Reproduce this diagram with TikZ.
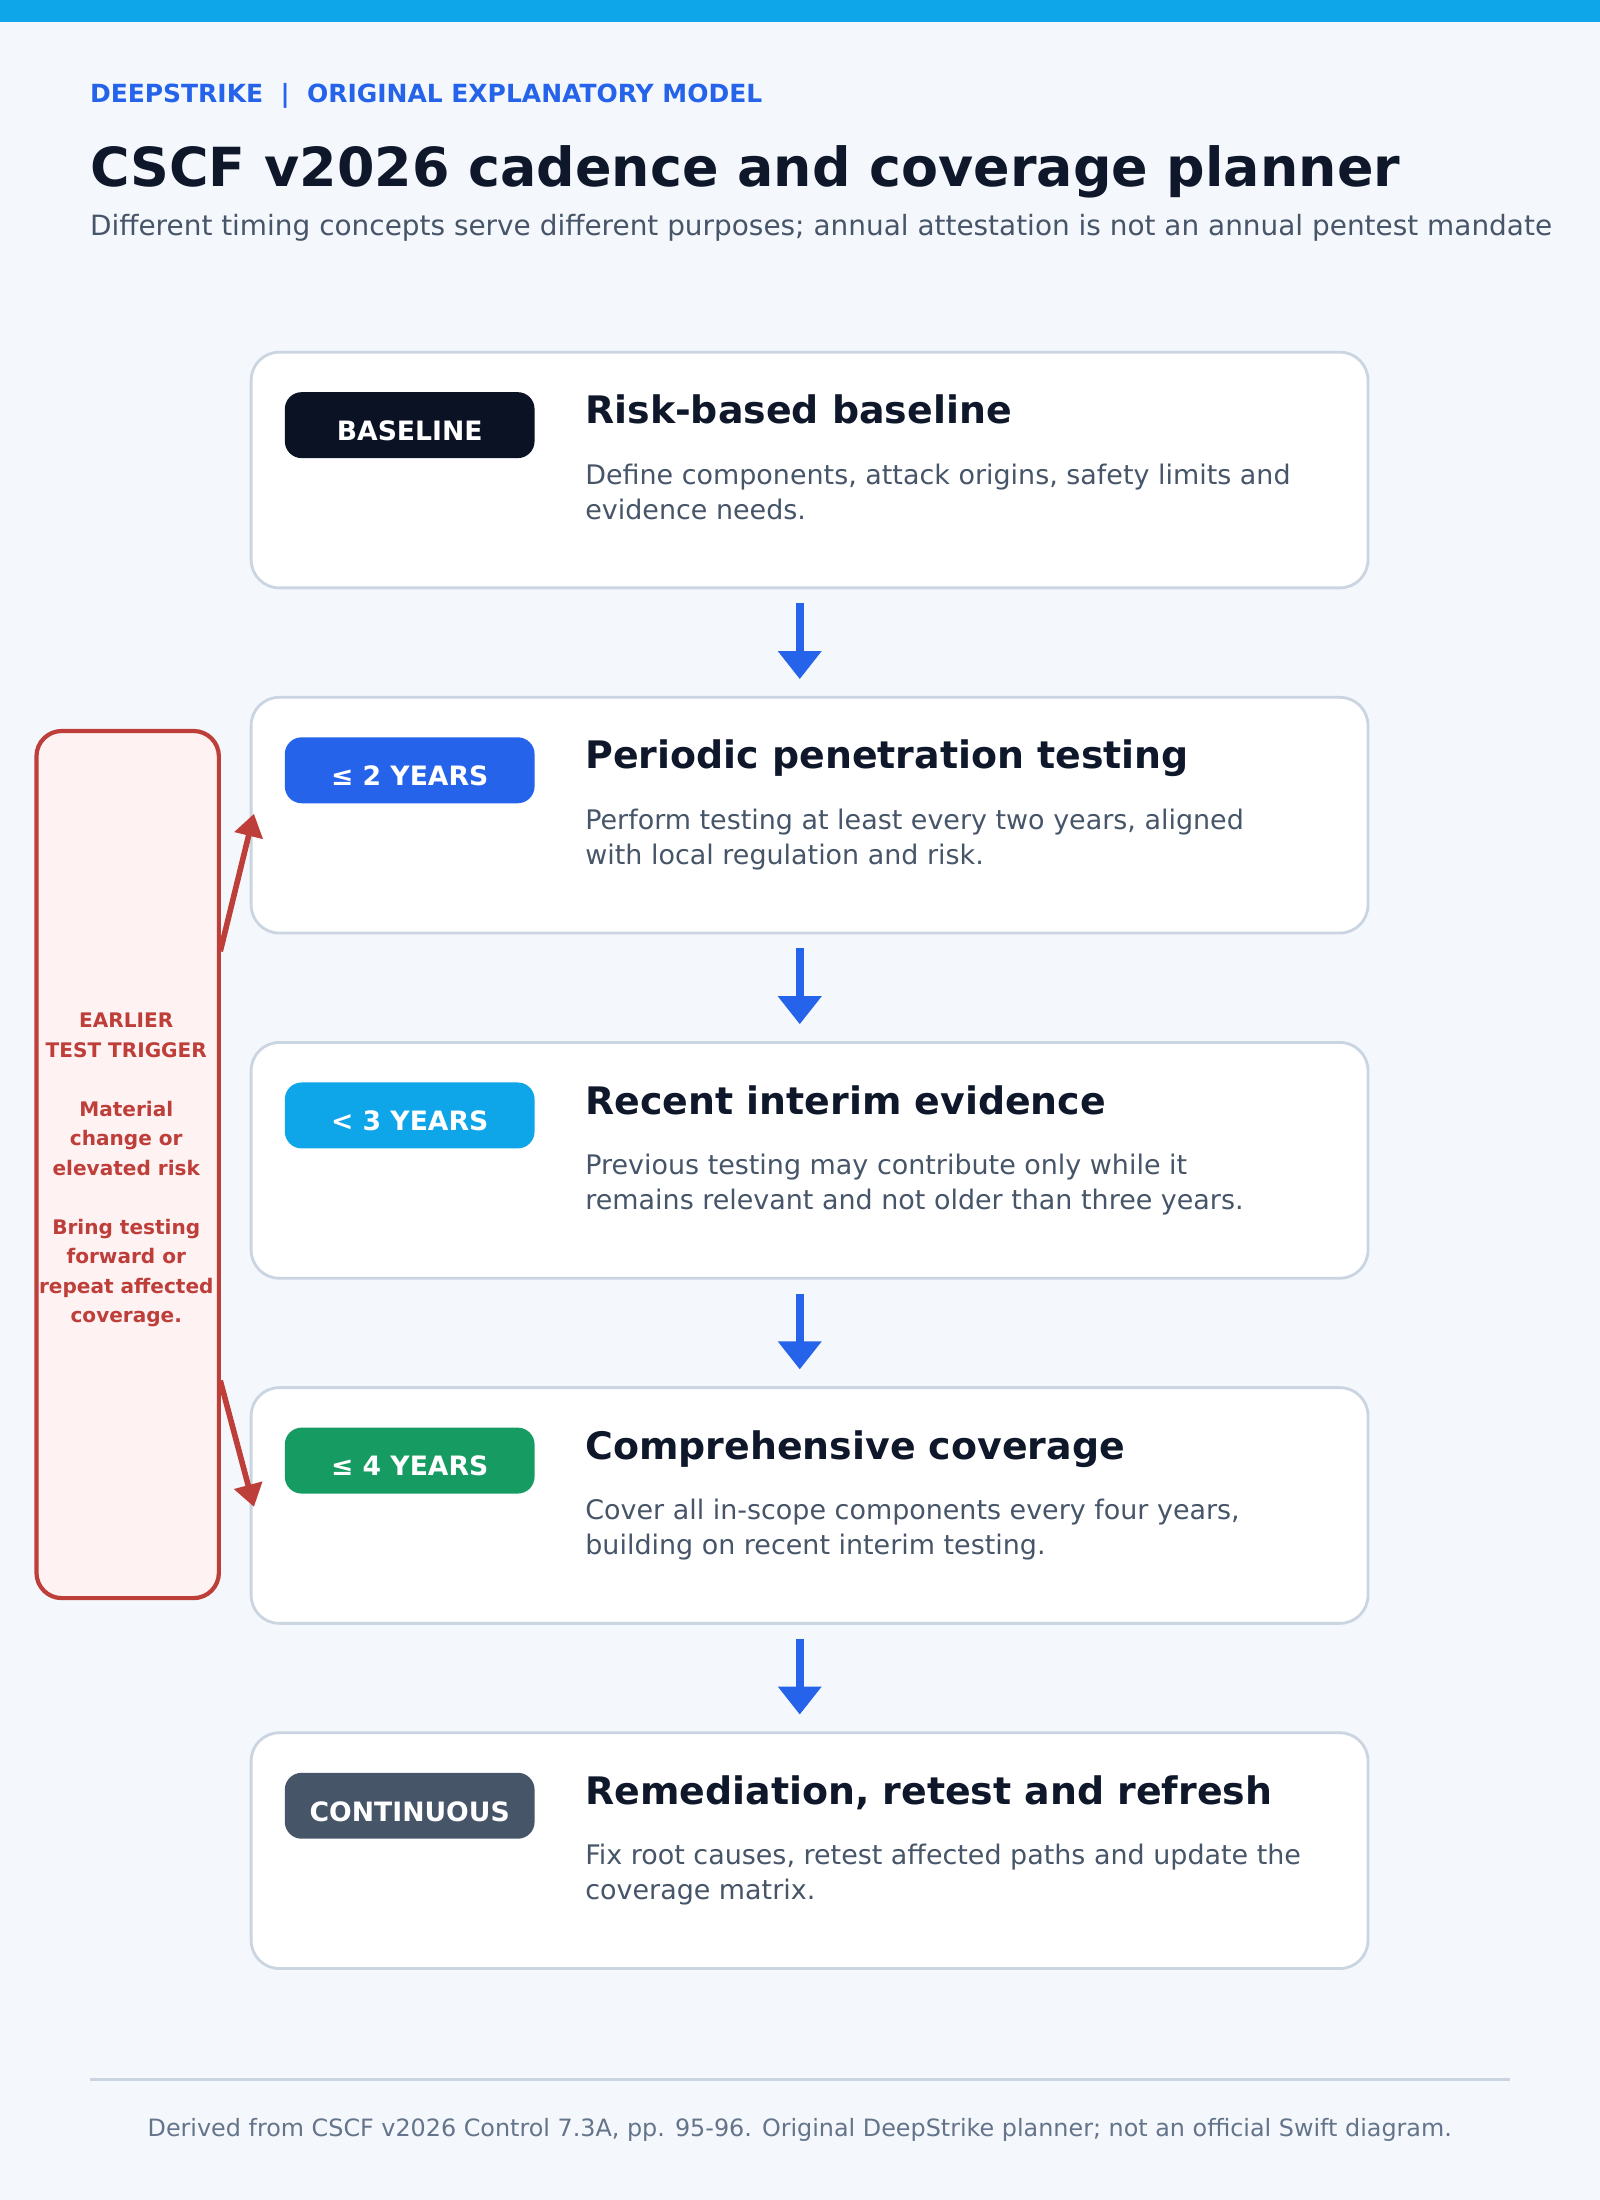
\documentclass[tikz,border=0pt]{standalone}
\usepackage{fontspec}
\setmainfont{DejaVu Sans}
\usetikzlibrary{arrows.meta}
\definecolor{bg}{HTML}{F4F7FB}
\definecolor{topbar}{HTML}{0EA5E9}
\definecolor{blue}{HTML}{2563EB}
\definecolor{ink}{HTML}{0F172A}
\definecolor{slate}{HTML}{475569}
\definecolor{gray}{HTML}{64748B}
\definecolor{border}{HTML}{CBD5E1}
\definecolor{red}{HTML}{BE3F3A}
\definecolor{pink}{HTML}{FEF2F2}
\definecolor{cA}{HTML}{0B1224}
\definecolor{cB}{HTML}{2563EB}
\definecolor{cC}{HTML}{0EA5E9}
\definecolor{cD}{HTML}{169C62}
\definecolor{cE}{HTML}{475569}
\begin{document}
\begin{tikzpicture}[x=1pt,y=-1pt,
  card/.style={draw=border,line width=2pt,fill=white,rounded corners=20pt},
  badge/.style={rounded corners=12pt,minimum width=178pt,minimum height=47pt,inner sep=0pt,fill=#1},
  btext/.style={text=white,inner sep=0pt,font=\fontsize{19}{22}\selectfont\bfseries},
  head/.style={anchor=base west,inner sep=0pt,text=ink,font=\fontsize{27}{30}\selectfont\bfseries},
  desc/.style={anchor=base west,inner sep=0pt,text=slate,align=left,font=\fontsize{19.2}{25}\selectfont},
  flow/.style={draw=blue,line width=6pt,-{Triangle[length=20pt,width=30pt]}},
  trig/.style={draw=red,line width=4pt,-{Triangle[length=16pt,width=20pt]}}]
\fill[bg] (0,0) rectangle (1140,1568);
\useasboundingbox (0,0) rectangle (1140,1568);
\fill[topbar] (0,0) rectangle (1140,16);
\node[anchor=base west,inner sep=0pt,text=blue,font=\fontsize{17.8}{20}\selectfont\bfseries] (kick) at (64,73) {DEEPSTRIKE\ \ |\ \ ORIGINAL EXPLANATORY MODEL};
\node[anchor=base west,inner sep=0pt,text=ink,font=\fontsize{38.4}{42}\selectfont\bfseries] (title) at (64,133) {CSCF v2026 cadence and coverage planner};
\node[anchor=base west,inner sep=0pt,text=slate,font=\fontsize{19.9}{23}\selectfont] (sub) at (64,168) {Different timing concepts serve different purposes; annual attestation is not an annual pentest mandate};
\foreach \i/\t/\c/\b/\h/\da/\db in {
 1/251/cA/BASELINE/Risk-based baseline/{Define components, attack origins, safety limits and}/{evidence needs.},
 2/497/cB/≤ 2 YEARS/Periodic penetration testing/{Perform testing at least every two years, aligned}/{with local regulation and risk.},
 3/743/cC/< 3 YEARS/Recent interim evidence/{Previous testing may contribute only while it}/{remains relevant and not older than three years.},
 4/989/cD/≤ 4 YEARS/Comprehensive coverage/{Cover all in-scope components every four years,}/{building on recent interim testing.},
 5/1235/cE/CONTINUOUS/{Remediation, retest and refresh}/{Fix root causes, retest affected paths and update the}/{coverage matrix.}}{
  \node[card,minimum width=796pt,minimum height=168pt,inner sep=0pt] (box\i) at (577,\t+84) {};
  \node[badge=\c] (badge\i) at (292,\t+52) {};
  \node[btext] (bt\i) at (292,\t+56) {\b};
  \node[head] (h\i) at (417,\t+51) {\h};
  \node[desc] (d\i) at (417,\t+119) {\da\\\db};
}
\foreach \a/\b in {1/2,2/3,3/4,4/5}{
  \draw[flow] ([xshift=-7pt,yshift=-10pt]box\a.south) -- ([xshift=-7pt,yshift=12pt]box\b.north);
}
\node[draw=red,line width=3pt,fill=pink,rounded corners=18pt,minimum width=130pt,minimum height=618pt,inner sep=0pt] (trigger) at (91,830) {};
\node[text=red,align=center,font=\fontsize{14.3}{21}\selectfont\bfseries] (ttext) at (90,834) {EARLIER\\TEST TRIGGER\\[21pt]Material\\change or\\elevated risk\\[21pt]Bring testing\\forward or\\repeat affected\\coverage.};
\coordinate (t1) at (157,678);
\coordinate (t2) at (157,984);
\coordinate (e1) at (181,580);
\coordinate (e2) at (181,1074);
\draw[trig] (t1) -- (e1);
\draw[trig] (t2) -- (e2);
\draw[border,line width=2pt] (64,1482) -- (1076,1482);
\node[text=gray,inner sep=0pt,font=\fontsize{17}{19}\selectfont] (foot) at (570,1518) {Derived from CSCF v2026 Control 7.3A, pp. 95-96. Original DeepStrike planner; not an official Swift diagram.};
\end{tikzpicture}
\end{document}
